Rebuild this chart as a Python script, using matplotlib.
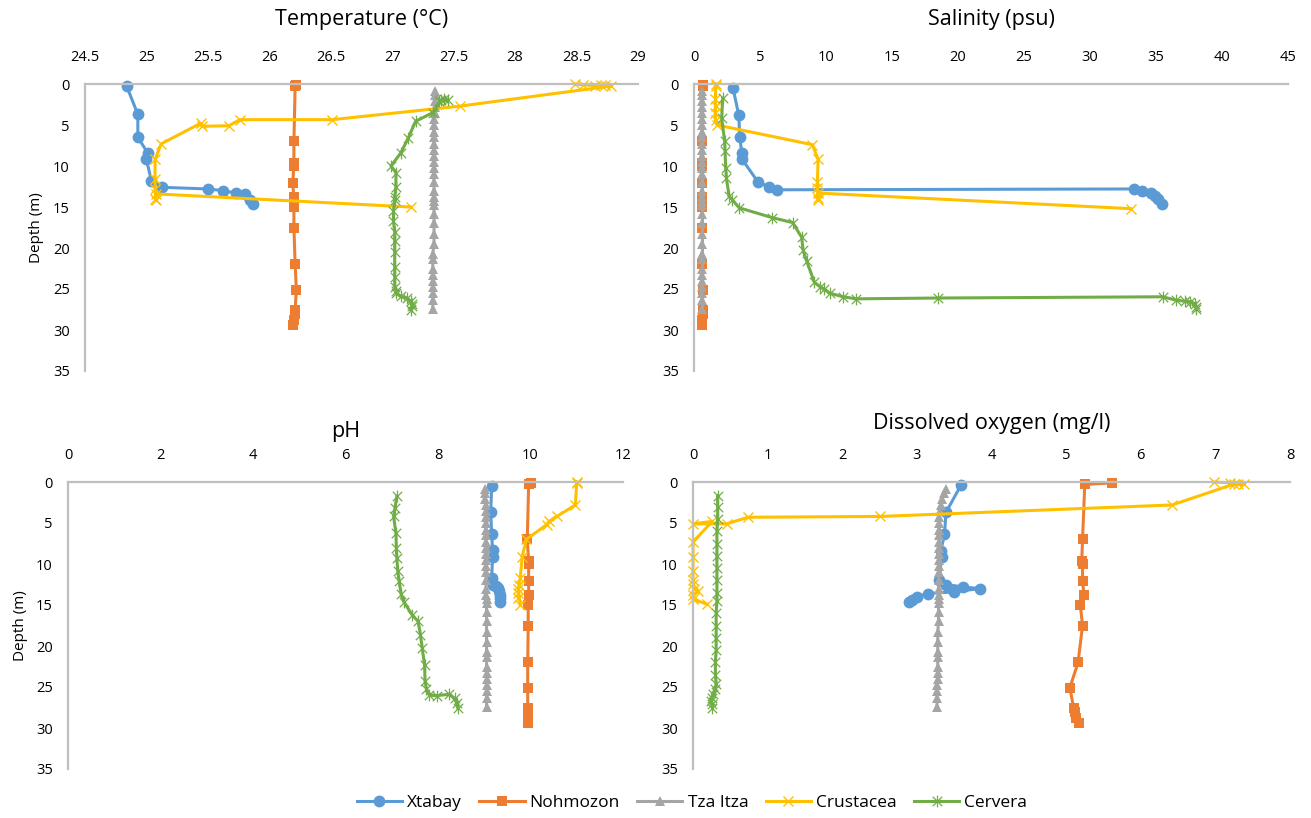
import matplotlib
matplotlib.use("Agg")
import matplotlib.pyplot as plt
from matplotlib.path import Path

plt.rcParams['font.family'] = ['Open Sans', 'DejaVu Sans']

# ---------------- data ----------------
series_names = ["Xtabay", "Nohmozon", "Tza Itza", "Crustacea", "Cervera"]
depth_ticks = [0, 5, 10, 15, 20, 25, 30, 35]

# shared depth profiles
nohmozon_depth = [0.1, 0.3, 7.0, 9.6, 10.0, 12.1, 13.8, 15.0, 17.5, 22.0, 25.1, 27.5, 28.0, 28.8, 29.4]
tza_depth = [0.8, 1.4, 2.1, 2.8, 3.5, 4.3, 5.0, 5.8, 6.5, 7.3, 8.0, 8.8, 9.5, 10.3, 11.0, 12.0, 13.0,
             13.8, 14.3, 14.8, 15.8, 17.0, 18.3, 19.5, 20.7, 21.3, 22.5, 23.3, 24.0, 24.8, 25.5, 26.3, 27.4]

# Temperature (°C)
temp_xtabay_depth = [0.3, 3.7, 6.5, 8.4, 9.2, 11.8, 12.6, 12.8, 13.0, 13.3, 13.4, 14.1, 14.6]
temp_xtabay = [24.84, 24.93, 24.93, 25.01, 25.00, 25.04, 25.13, 25.50, 25.62, 25.73, 25.80, 25.84, 25.87]
temp_nohmozon = [26.22, 26.21, 26.20, 26.20, 26.20, 26.19, 26.20, 26.20, 26.20, 26.21, 26.22, 26.21, 26.21, 26.20, 26.19]
temp_tza = [27.35, 27.35, 27.35, 27.35, 27.35, 27.34, 27.34, 27.34, 27.34, 27.34, 27.34, 27.34, 27.34, 27.34,
            27.34, 27.34, 27.34, 27.34, 27.34, 27.34, 27.34, 27.34, 27.34, 27.34, 27.33, 27.33, 27.33, 27.33,
            27.33, 27.33, 27.33, 27.33, 27.33]
temp_crust_depth = [0.0, 0.1, 0.2, 0.15, 0.1, 0.25, 2.7, 4.35, 4.35, 5.1, 5.15, 4.8, 7.3, 9.2, 11.6, 12.8,
                    14.2, 14.0, 13.4, 15.0]
temp_crust = [28.49, 28.55, 28.65, 28.70, 28.73, 28.78, 27.55, 26.51, 25.76, 25.67, 25.45, 25.44, 25.12, 25.07,
              25.07, 25.07, 25.08, 25.07, 25.08, 27.15]
temp_cervera_depth = [1.8, 2.1, 1.9, 2.0, 3.5, 4.55, 6.6, 8.4, 10.0, 10.8, 12.5, 13.8, 14.2, 15.5, 16.7, 18.0,
                      19.1, 20.5, 22.3, 23.5, 24.7, 25.2, 25.5, 25.9, 26.1, 26.5, 26.8, 27.1, 27.5]
temp_cervera = [27.42, 27.38, 27.45, 27.40, 27.33, 27.19, 27.13, 27.07, 26.99, 27.03, 27.03, 27.02, 27.02, 27.01,
                27.01, 27.02, 27.02, 27.02, 27.02, 27.02, 27.02, 27.03, 27.03, 27.07, 27.12, 27.15, 27.16, 27.16,
                27.15]

# Salinity (psu)
sal_xtabay_depth = [0.45, 3.8, 6.5, 8.4, 9.2, 11.9, 12.6, 12.9, 12.8, 13.1, 13.3, 13.6, 14.0, 14.6]
sal_xtabay = [2.95, 3.39, 3.47, 3.62, 3.65, 4.83, 5.70, 6.28, 33.37, 33.95, 34.65, 34.93, 35.17, 35.46]
sal_nohmozon = [0.65, 0.65, 0.64, 0.64, 0.64, 0.63, 0.64, 0.64, 0.64, 0.64, 0.65, 0.65, 0.65, 0.64, 0.64]
sal_tza = [0.62, 0.62, 0.62, 0.62, 0.62, 0.62, 0.62, 0.62, 0.62, 0.62, 0.62, 0.62, 0.62, 0.62, 0.62, 0.62,
           0.62, 0.62, 0.62, 0.62, 0.62, 0.62, 0.62, 0.62, 0.62, 0.62, 0.62, 0.62, 0.62, 0.62, 0.62, 0.62, 0.62]
sal_crust_depth = [0.0, 0.2, 1.8, 2.7, 3.5, 4.4, 5.0, 7.4, 9.2, 11.9, 12.7, 13.9, 14.2, 13.3, 15.2]
sal_crust = [1.65, 1.65, 1.62, 1.63, 1.62, 1.63, 1.74, 8.97, 9.40, 9.35, 9.35, 9.40, 9.42, 9.40, 33.08]
sal_cervera_depth = [1.75, 4.2, 7.0, 8.2, 10.2, 11.5, 13.7, 14.1, 15.1, 16.3, 16.9, 18.7, 20.2, 21.6, 24.2,
                     24.7, 25.0, 25.5, 25.95, 26.2, 26.1, 25.95, 26.35, 26.5, 26.6, 26.8, 27.2, 27.45]
sal_cervera = [2.17, 2.10, 2.32, 2.35, 2.40, 2.46, 2.66, 2.90, 3.42, 5.93, 7.47, 8.16, 8.25, 8.54, 9.12, 9.55,
               9.84, 10.27, 11.29, 12.30, 18.47, 35.50, 36.50, 37.20, 37.60, 37.97, 38.06, 38.06]

# pH
ph_xtabay_depth = [0.5, 3.7, 6.4, 8.3, 9.1, 11.7, 12.5, 12.7, 12.9, 13.3, 13.8, 14.2, 14.6]
ph_xtabay = [9.16, 9.14, 9.16, 9.18, 9.18, 9.16, 9.20, 9.25, 9.29, 9.31, 9.34, 9.34, 9.34]
ph_nohmozon = [10.00, 9.96, 9.93, 9.96, 9.96, 9.96, 9.96, 9.95, 9.95, 9.94, 9.94, 9.94, 9.95, 9.95, 9.95]
ph_tza = [9.02, 9.02, 9.02, 9.03, 9.03, 9.03, 9.03, 9.03, 9.03, 9.04, 9.04, 9.04, 9.04, 9.04, 9.04, 9.04,
          9.04, 9.04, 9.05, 9.05, 9.05, 9.05, 9.05, 9.05, 9.05, 9.05, 9.05, 9.05, 9.05, 9.05, 9.05, 9.05, 9.05]
ph_crust_depth = [0.0, 0.1, 2.8, 4.2, 4.8, 5.2, 7.0, 9.1, 11.7, 12.5, 13.0, 14.2, 13.5, 15.0]
ph_crust = [11.01, 11.00, 10.97, 10.57, 10.40, 10.35, 9.91, 9.82, 9.78, 9.75, 9.74, 9.74, 9.74, 9.78]
ph_cervera_depth = [1.75, 3.2, 4.2, 6.2, 8.1, 9.3, 10.9, 12.1, 13.6, 14.6, 16.2, 17.0, 18.6, 20.3, 22.3, 24.3,
                    25.2, 26.0, 26.05, 25.9, 26.4, 27.0, 27.6]
ph_cervera = [7.11, 7.07, 7.04, 7.09, 7.10, 7.11, 7.13, 7.16, 7.20, 7.26, 7.44, 7.57, 7.62, 7.66, 7.71, 7.72,
              7.75, 7.81, 7.97, 8.23, 8.36, 8.41, 8.43]

# Dissolved oxygen (mg/l)
do_xtabay_depth = [0.4, 3.7, 6.4, 8.4, 9.2, 11.9, 12.5, 12.8, 13.0, 13.4, 13.6, 14.0, 14.4, 14.6]
do_xtabay = [3.59, 3.39, 3.37, 3.32, 3.33, 3.30, 3.39, 3.62, 3.84, 3.50, 3.15, 3.00, 2.93, 2.89]
do_nohmozon = [5.62, 5.25, 5.22, 5.21, 5.22, 5.22, 5.24, 5.19, 5.22, 5.16, 5.05, 5.10, 5.12, 5.13, 5.17]
do_tza = [3.39, 3.36, 3.34, 3.32, 3.31, 3.30, 3.30, 3.30, 3.30, 3.30, 3.30, 3.30, 3.30, 3.30, 3.29, 3.29,
          3.29, 3.29, 3.29, 3.29, 3.29, 3.29, 3.28, 3.28, 3.28, 3.28, 3.28, 3.28, 3.28, 3.27, 3.27, 3.27, 3.27]
do_crust_depth = [0.0, 0.1, 0.2, 0.3, 0.25, 2.8, 4.2, 4.3, 5.1, 5.1, 4.8, 7.3, 9.1, 10.9, 11.9, 12.4, 13.0,
                  13.3, 13.8, 14.3, 14.9]
do_crust = [6.98, 7.20, 7.30, 7.38, 7.25, 6.42, 2.51, 0.74, 0.45, 0.00, 0.26, 0.00, 0.00, 0.00, 0.00, 0.00,
            0.02, 0.07, 0.00, 0.00, 0.19]
do_cervera_depth = [1.65, 3.0, 4.5, 6.0, 7.5, 9.0, 10.5, 12.0, 13.5, 14.5, 16.0, 17.5, 19.0, 20.5, 22.0, 23.5,
                    24.6, 25.2, 25.8, 26.3, 26.7, 27.1, 27.5]
do_cervera = [0.33, 0.33, 0.33, 0.32, 0.32, 0.32, 0.32, 0.32, 0.32, 0.32, 0.31, 0.31, 0.31, 0.31, 0.30, 0.30,
              0.31, 0.30, 0.27, 0.25, 0.24, 0.25, 0.26]

# ---------------- styles ----------------
colors = ["#5B9BD5", "#ED7D31", "#A5A5A5", "#FFC000", "#70AD47"]
star = Path([(0, -1), (0, 1), (-0.8, -0.8), (0.8, 0.8), (-0.8, 0.8), (0.8, -0.8)],
            [Path.MOVETO, Path.LINETO, Path.MOVETO, Path.LINETO, Path.MOVETO, Path.LINETO])
marker_styles = [
    dict(marker="o", markersize=8.5, markeredgewidth=0),
    dict(marker="s", markersize=7.5, markeredgewidth=0),
    dict(marker="^", markersize=7.5, markeredgewidth=0),
    dict(marker="x", markersize=7.5, markeredgewidth=1.0),
    dict(marker=star, markersize=8.5, markeredgewidth=0.9),
]

fig = plt.figure(figsize=(13.11, 8.18), dpi=100)
W, H = 1311, 818


def make_axes(left, right, top, bottom):
    return fig.add_axes([left / W, 1 - bottom / H, (right - left) / W, (bottom - top) / H])


panels = [
    dict(rect=(85, 638, 84, 371), xlim=(24.5, 29), xticks=[24.5, 25, 25.5, 26, 26.5, 27, 27.5, 28, 28.5, 29],
         title="Temperature (°C)", title_y=20, ylabel_x=37,
         data=[(temp_xtabay_depth, temp_xtabay), (nohmozon_depth, temp_nohmozon), (tza_depth, temp_tza),
               (temp_crust_depth, temp_crust), (temp_cervera_depth, temp_cervera)]),
    dict(rect=(694, 1288, 84, 371), xlim=(0, 45), xticks=[0, 5, 10, 15, 20, 25, 30, 35, 40, 45],
         title="Salinity (psu)", title_y=20, ylabel_x=None,
         data=[(sal_xtabay_depth, sal_xtabay), (nohmozon_depth, sal_nohmozon), (tza_depth, sal_tza),
               (sal_crust_depth, sal_crust), (sal_cervera_depth, sal_cervera)]),
    dict(rect=(68, 623, 482, 769), xlim=(0, 12), xticks=[0, 2, 4, 6, 8, 10, 12],
         title="pH", title_y=432, ylabel_x=20,
         data=[(ph_xtabay_depth, ph_xtabay), (nohmozon_depth, ph_nohmozon), (tza_depth, ph_tza),
               (ph_crust_depth, ph_crust), (ph_cervera_depth, ph_cervera)]),
    dict(rect=(693, 1290, 482, 769), xlim=(0, 8), xticks=[0, 1, 2, 3, 4, 5, 6, 7, 8],
         title="Dissolved oxygen (mg/l)", title_y=424, ylabel_x=None,
         data=[(do_xtabay_depth, do_xtabay), (nohmozon_depth, do_nohmozon), (tza_depth, do_tza),
               (do_crust_depth, do_crust), (do_cervera_depth, do_cervera)]),
]

handles = []
for p in panels:
    l, r, t, b = p["rect"]
    ax = make_axes(l, r, t, b)
    hs = []
    for i, (d, v) in enumerate(p["data"]):
        h, = ax.plot(v, d, color=colors[i], linewidth=2.2, clip_on=False,
                     markerfacecolor=colors[i], markeredgecolor=colors[i],
                     label=series_names[i], **marker_styles[i])
        hs.append(h)
    handles = hs
    ax.set_xlim(*p["xlim"])
    ax.set_ylim(35, 0)
    ax.set_xticks(p["xticks"])
    ax.set_xticklabels([f"{x:g}" for x in p["xticks"]])
    ax.set_yticks(depth_ticks)
    ax.xaxis.tick_top()
    ax.tick_params(axis="both", length=0, labelsize=10.5, colors="#000000")
    ax.tick_params(axis="x", pad=14)
    ax.tick_params(axis="y", pad=11)
    for s in ["right", "bottom"]:
        ax.spines[s].set_visible(False)
    for s in ["left", "top"]:
        ax.spines[s].set_color("#BFBFBF")
        ax.spines[s].set_linewidth(1.6)
    ax.patch.set_alpha(0)
    fig.text((l + r) / 2 / W, 1 - p["title_y"] / H, p["title"], ha="center", va="center", fontsize=15.5)
    if p["ylabel_x"] is not None:
        fig.text(p["ylabel_x"] / W, 1 - (t + b) / 2 / H, "Depth (m)", rotation=90,
                 ha="center", va="center", fontsize=11)

fig.legend(handles=handles, labels=series_names, loc="center", bbox_to_anchor=(692 / W, 1 - 803 / H),
           ncol=5, frameon=False, fontsize=12.5, handlelength=2.6, columnspacing=1.0, handletextpad=0.3)

fig.savefig("out.png", dpi=100)
